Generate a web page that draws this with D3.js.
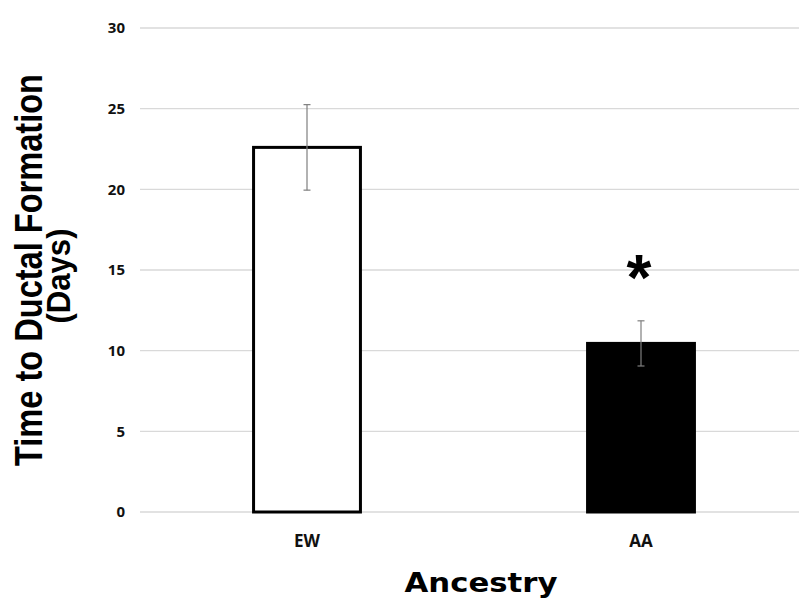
<!DOCTYPE html>
<html>
<head>
<meta charset="utf-8">
<script src="https://cdn.jsdelivr.net/npm/d3@7"></script>
<style>
  html, body { margin: 0; padding: 0; background: #fff; }
  svg { display: block; }
</style>
</head>
<body>
<svg id="chart" width="799" height="604"></svg>
<script>
// Time to ductal formation by ancestry (mean ± error)
const categories = ["EW", "AA"];
const means = [22.6, 10.45];
const errors = [2.65, 1.4];
const yTicks = [0, 5, 10, 15, 20, 25, 30];
const barFills = ["#ffffff", "#000000"];

const svg = d3.select("#chart");
const W = 799;

const x = d3.scaleBand().domain(categories).range([140, 808]).padding(0);
const y = d3.scaleLinear().domain([0, 30]).range([512, 28]);
const barW = x.bandwidth() * 0.32;

// gridlines
svg.append("g")
  .selectAll("line")
  .data(yTicks)
  .join("line")
  .attr("x1", 140).attr("x2", W)
  .attr("y1", d => y(d)).attr("y2", d => y(d))
  .attr("stroke", "#d9d9d9")
  .attr("stroke-width", 1.3);

// y axis tick labels
const yAxis = d3.axisLeft(y).tickValues(yTicks).tickSize(0).tickPadding(0);
const gy = svg.append("g").attr("transform", "translate(125,0)").call(yAxis);
gy.select(".domain").remove();
gy.selectAll("text")
  .attr("font-family", "'Open Sans', sans-serif")
  .attr("font-weight", 700)
  .attr("font-size", 15)
  .attr("fill", "#111");

// bars
svg.append("g")
  .selectAll("rect")
  .data(categories)
  .join("rect")
  .attr("x", d => x(d) + x.bandwidth() / 2 - barW / 2)
  .attr("width", barW)
  .attr("y", (d, i) => y(means[i]))
  .attr("height", (d, i) => y(0) - y(means[i]))
  .attr("fill", (d, i) => barFills[i])
  .attr("stroke", "#000")
  .attr("stroke-width", 3);

// error bars
const eb = svg.append("g").attr("stroke", "#7f7f7f").attr("stroke-width", 1.2);
categories.forEach((c, i) => {
  const cx = x(c) + x.bandwidth() / 2;
  const top = y(means[i] + errors[i]);
  const bot = y(means[i] - errors[i]);
  eb.append("line").attr("x1", cx).attr("x2", cx).attr("y1", top).attr("y2", bot);
  eb.append("line").attr("x1", cx - 3.5).attr("x2", cx + 3.5).attr("y1", top).attr("y2", top);
  eb.append("line").attr("x1", cx - 3.5).attr("x2", cx + 3.5).attr("y1", bot).attr("y2", bot);
});

// x axis category labels
const xAxis = d3.axisBottom(x).tickSize(0).tickPadding(0);
const gx = svg.append("g").attr("transform", "translate(0,547)").call(xAxis);
gx.select(".domain").remove();
gx.selectAll("text")
  .attr("dy", 0)
  .attr("font-family", "'Open Sans', sans-serif")
  .attr("font-weight", 700)
  .attr("font-size", 17)
  .attr("fill", "#111");

// significance marker above AA
const aaX = x("AA") + x.bandwidth() / 2;
svg.append("text")
  .attr("x", aaX - 2)
  .attr("y", y(means[1] + errors[1]) - 21)
  .attr("text-anchor", "middle")
  .attr("font-family", "'Liberation Sans', Arial, sans-serif")
  .attr("font-weight", 700)
  .attr("font-size", 64)
  .attr("fill", "#000")
  .text("*");

// axis titles
const yTitle = svg.append("g").attr("transform", "translate(42,270) rotate(-90)");
yTitle.append("text")
  .attr("text-anchor", "middle")
  .attr("font-family", "'Liberation Sans', Arial, sans-serif")
  .attr("font-weight", 700)
  .attr("font-size", 38)
  .attr("textLength", 392)
  .attr("lengthAdjust", "spacingAndGlyphs")
  .attr("fill", "#000")
  .text("Time to Ductal Formation");
yTitle.append("text")
  .attr("y", 28)
  .attr("x", -6)
  .attr("text-anchor", "middle")
  .attr("font-family", "'Liberation Sans', Arial, sans-serif")
  .attr("font-weight", 700)
  .attr("font-size", 34)
  .attr("textLength", 95)
  .attr("lengthAdjust", "spacingAndGlyphs")
  .attr("fill", "#000")
  .text("(Days)");

svg.append("text")
  .attr("x", 481)
  .attr("y", 592)
  .attr("text-anchor", "middle")
  .attr("font-family", "'DejaVu Sans', sans-serif")
  .attr("font-weight", 700)
  .attr("font-size", 26)
  .attr("textLength", 153)
  .attr("lengthAdjust", "spacingAndGlyphs")
  .attr("fill", "#000")
  .text("Ancestry");
</script>
</body>
</html>
